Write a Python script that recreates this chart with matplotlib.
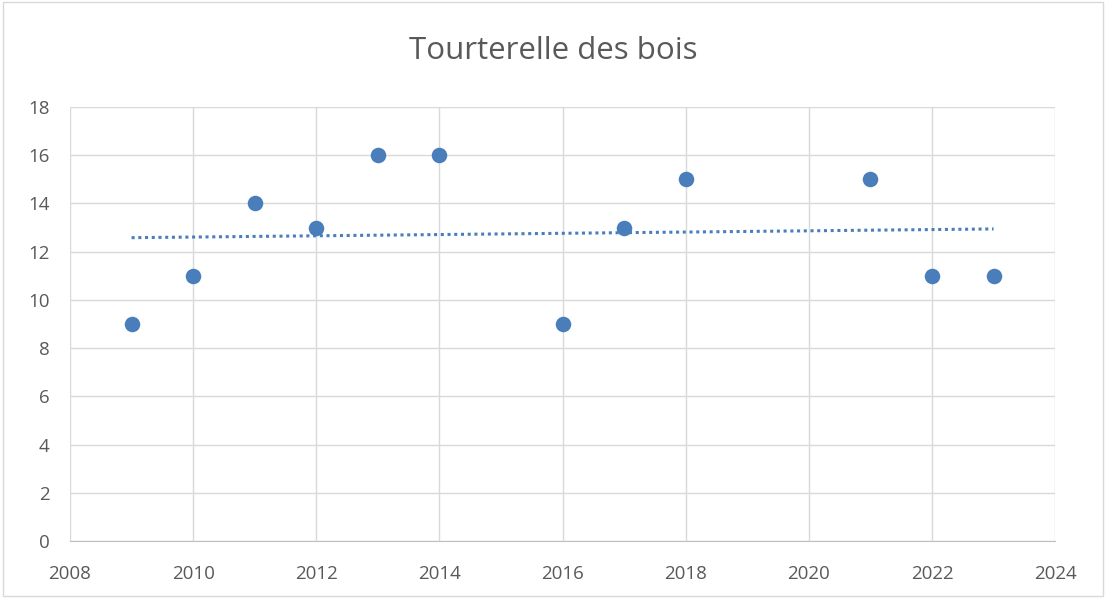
import numpy as np
import matplotlib.pyplot as plt
from matplotlib.patches import Rectangle

YEARS = [2009, 2010, 2011, 2012, 2013, 2014, 2016, 2017, 2018, 2021, 2022, 2023]
COUNTS = [9, 11, 14, 13, 16, 16, 9, 13, 15, 15, 11, 11]
XTICKS = list(range(2008, 2025, 2))
YTICKS = list(range(0, 19, 2))

BLUE = "#4a7ebb"
GRID = "#d9d9d9"
TEXT = "#595959"

plt.rcParams["font.family"] = ["Open Sans", "DejaVu Sans"]

fig = plt.figure(figsize=(11.06, 5.98), dpi=100)
fig.patches.append(Rectangle((0.003, 0.003), 0.994, 0.994, transform=fig.transFigure,
                             fill=False, edgecolor=GRID, linewidth=1))
ax = fig.add_axes([0.0633, 0.0953, 0.8907, 0.7257])

ax.scatter(YEARS, COUNTS, s=125, color=BLUE, zorder=3, linewidths=0)

# linear trend line, as in the spreadsheet
slope, icpt = np.polyfit(YEARS, COUNTS, 1)
xs = np.array([YEARS[0], YEARS[-1]])
ax.plot(xs, slope * xs + icpt, linestyle=(0, (1, 1.2)), color=BLUE, linewidth=2.2, zorder=2)

ax.set_xlim(2008, 2024)
ax.set_ylim(0, 18)
ax.set_xticks(XTICKS)
ax.set_yticks(YTICKS)
ax.grid(True, color=GRID, linewidth=1)
ax.set_axisbelow(True)
for side in ("top", "right", "left"):
    ax.spines[side].set_visible(False)
ax.spines["bottom"].set_color("#bfbfbf")
ax.tick_params(length=0, labelsize=13.5, colors=TEXT)
ax.tick_params(axis="x", pad=17)
ax.tick_params(axis="y", pad=14.5)

fig.text(0.5, 0.914, "Tourterelle des bois", ha="center", va="center", fontsize=22.5, color=TEXT)

fig.savefig("out.png", dpi=100)
